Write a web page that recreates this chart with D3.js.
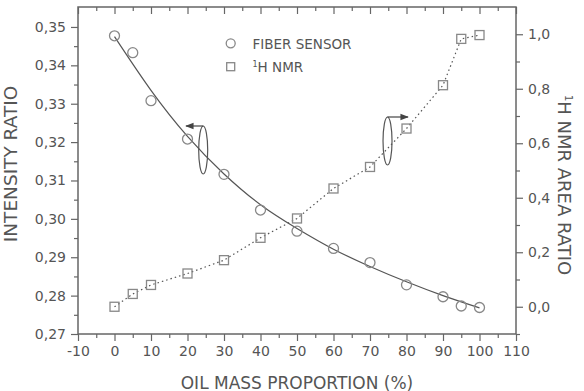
<!DOCTYPE html>
<html>
<head>
<meta charset="utf-8">
<script src="https://cdn.jsdelivr.net/npm/d3@7"></script>
<style>
  body { margin: 0; background: #fff; }
  text { font-family: "DejaVu Sans", "Liberation Sans", sans-serif; fill: #555; }
</style>
</head>
<body>
<div id="chart"></div>
<script>
// data
var oilProportion = [0, 5, 10, 20, 30, 40, 50, 60, 70, 80, 90, 95, 100];
var fiberRatio = [0.3477, 0.3433, 0.3308, 0.3208, 0.3116, 0.3023, 0.2968, 0.2923, 0.2886, 0.2828, 0.2797, 0.2773, 0.2769];
var nmrRatio = [0.0, 0.047, 0.08, 0.122, 0.171, 0.253, 0.324, 0.434, 0.513, 0.654, 0.813, 0.983, 0.997];
// fitted curve of the fiber sensor, read at a few points
var fitX = [0, 10, 20, 30, 40, 50, 60, 70, 80, 90, 100];
var fitY = [0.3475, 0.3335, 0.3215, 0.3117, 0.3037, 0.2975, 0.2921, 0.2876, 0.2836, 0.2800, 0.2768];
var xTicks = [-10, 0, 10, 20, 30, 40, 50, 60, 70, 80, 90, 100, 110];
var leftTicks = [0.27, 0.28, 0.29, 0.30, 0.31, 0.32, 0.33, 0.34, 0.35];
var rightTicks = [0.0, 0.2, 0.4, 0.6, 0.8, 1.0];

var lineCol = "#666";
var markCol = "#888";

var margin = {top: 7, right: 68, bottom: 57, left: 78},
    width = 584 - margin.left - margin.right,
    height = 391 - margin.top - margin.bottom;

var svg = d3.select("#chart")
  .append("svg")
    .attr("width", 584)
    .attr("height", 391)
  .append("g")
    .attr("transform", "translate(" + margin.left + "," + margin.top + ")");

svg.append("defs").append("marker")
    .attr("id", "arrow")
    .attr("viewBox", "0 0 10 10")
    .attr("refX", 9).attr("refY", 5)
    .attr("markerWidth", 7).attr("markerHeight", 7)
    .attr("orient", "auto")
  .append("path")
    .attr("d", "M0,1 L10,5 L0,9 Z")
    .style("fill", "#444");

var x = d3.scaleLinear().domain([-10, 110]).range([0, width]);
var yL = d3.scaleLinear().domain([0.27, 0.3552]).range([height, 0]);
var yR = d3.scaleLinear().domain([-0.1, 1.1]).range([height, 0]);

var comma = function(f) { return function(d) { return d3.format(f)(d).replace(".", ","); }; };

// minor ticks first, then major with labels
function styleAxis(g) {
  g.select(".domain").remove();
  g.selectAll("line").style("stroke", lineCol).style("stroke-width", 1.2);
  g.selectAll("text").style("font-size", "14px").style("fill", "#555");
}

// X axis (bottom)
svg.append("g")
  .attr("transform", "translate(0," + height + ")")
  .call(d3.axisBottom(x).tickValues(d3.range(-5, 110, 10)).tickSize(4).tickFormat(""))
  .call(styleAxis);
svg.append("g")
  .attr("transform", "translate(0," + height + ")")
  .call(d3.axisBottom(x).tickValues(xTicks).tickSize(7).tickPadding(5).tickFormat(function(d) { return String(d); }))
  .call(styleAxis);
// top ticks, pointing inward
svg.append("g")
  .call(d3.axisBottom(x).tickValues(d3.range(-5, 110, 10)).tickSize(4).tickFormat(""))
  .call(styleAxis);
svg.append("g")
  .call(d3.axisBottom(x).tickValues(xTicks).tickSize(7).tickFormat(""))
  .call(styleAxis);

// left axis
svg.append("g")
  .call(d3.axisLeft(yL).tickValues(d3.range(0.275, 0.355, 0.01)).tickSize(4).tickFormat(""))
  .call(styleAxis);
svg.append("g")
  .call(d3.axisLeft(yL).tickValues(leftTicks).tickSize(7).tickPadding(5).tickFormat(comma(".2f")))
  .call(styleAxis);

// right axis
svg.append("g")
  .attr("transform", "translate(" + width + ",0)")
  .call(d3.axisRight(yR).tickValues([-0.1, 0.1, 0.3, 0.5, 0.7, 0.9]).tickSize(4).tickFormat(""))
  .call(styleAxis);
svg.append("g")
  .attr("transform", "translate(" + width + ",0)")
  .call(d3.axisRight(yR).tickValues(rightTicks).tickSize(7).tickPadding(5).tickFormat(comma(".1f")))
  .call(styleAxis);

// frame
svg.append("rect")
  .attr("width", width).attr("height", height)
  .style("fill", "none").style("stroke", lineCol).style("stroke-width", 1.5);

// fit curve (solid)
var fitData = fitX.map(function(d, i) { return [d, fitY[i]]; });
svg.append("path")
  .datum(fitData)
  .attr("d", d3.line().x(function(d) { return x(d[0]); }).y(function(d) { return yL(d[1]); }).curve(d3.curveNatural))
  .style("fill", "none").style("stroke", "#555").style("stroke-width", 1.2);

// NMR dotted line
var nmrData = oilProportion.map(function(d, i) { return [d, nmrRatio[i]]; });
svg.append("path")
  .datum(nmrData)
  .attr("d", d3.line().x(function(d) { return x(d[0]); }).y(function(d) { return yR(d[1]); }))
  .style("fill", "none").style("stroke", "#555").style("stroke-width", 1.2)
  .style("stroke-dasharray", "1.5,3");

// circles
var fiberData = oilProportion.map(function(d, i) { return [d, fiberRatio[i]]; });
svg.append("g")
  .selectAll("circle")
  .data(fiberData)
  .enter()
  .append("circle")
    .attr("cx", function(d) { return x(d[0]); })
    .attr("cy", function(d) { return yL(d[1]); })
    .attr("r", 5)
    .style("fill", "none").style("stroke", markCol).style("stroke-width", 1.3);

// squares
svg.append("g")
  .selectAll("rect")
  .data(nmrData)
  .enter()
  .append("rect")
    .attr("x", function(d) { return x(d[0]) - 4.5; })
    .attr("y", function(d) { return yR(d[1]) - 4.5; })
    .attr("width", 9).attr("height", 9)
    .style("fill", "none").style("stroke", markCol).style("stroke-width", 1.3);

// legend
svg.append("circle")
  .attr("cx", 230.7 - margin.left).attr("cy", 43.3 - margin.top).attr("r", 4.5)
  .style("fill", "none").style("stroke", markCol).style("stroke-width", 1.3);
svg.append("text")
  .attr("x", 252.5 - margin.left).attr("y", 48.5 - margin.top)
  .style("font-size", "13.5px")
  .text("FIBER SENSOR");
svg.append("rect")
  .attr("x", 226.7 - margin.left).attr("y", 62.7 - margin.top).attr("width", 8).attr("height", 8)
  .style("fill", "none").style("stroke", markCol).style("stroke-width", 1.3);
var leg2 = svg.append("text")
  .attr("x", 252.5 - margin.left).attr("y", 71.5 - margin.top)
  .style("font-size", "13.5px");
leg2.append("tspan").attr("dy", -5).style("font-size", "8px").text("1");
leg2.append("tspan").attr("dy", 5).text("H NMR");

// rotation annotations with arrows
function annot(cx, cy, ry, toX) {
  svg.append("ellipse")
    .attr("cx", x(cx)).attr("cy", cy - margin.top).attr("rx", 4.5).attr("ry", ry)
    .style("fill", "none").style("stroke", "#555").style("stroke-width", 1.2);
  svg.append("line")
    .attr("x1", x(cx)).attr("y1", cy - ry - margin.top)
    .attr("x2", toX - margin.left).attr("y2", cy - ry - margin.top)
    .attr("marker-end", "url(#arrow)")
    .style("stroke", "#444").style("stroke-width", 1.2);
}
annot(24.3, 150, 24, 186);
annot(74.8, 141, 24, 408);

// axis titles
svg.append("text")
  .attr("x", width / 2)
  .attr("y", 388.5 - margin.top)
  .style("text-anchor", "middle")
  .style("font-size", "17px")
  .text("OIL MASS PROPORTION (%)");

svg.append("text")
  .attr("transform", "translate(" + (17 - margin.left) + "," + (164 - margin.top) + ") rotate(-90)")
  .style("text-anchor", "middle")
  .style("font-size", "18.5px")
  .text("INTENSITY RATIO");

var rt = svg.append("text")
  .attr("transform", "translate(" + (558 - margin.left) + "," + (185 - margin.top) + ") rotate(90)")
  .style("text-anchor", "middle")
  .style("font-size", "18px");
rt.append("tspan").attr("dy", -7).style("font-size", "10px").text("1");
rt.append("tspan").attr("dy", 7).text("H NMR AREA RATIO");
</script>
</body>
</html>
